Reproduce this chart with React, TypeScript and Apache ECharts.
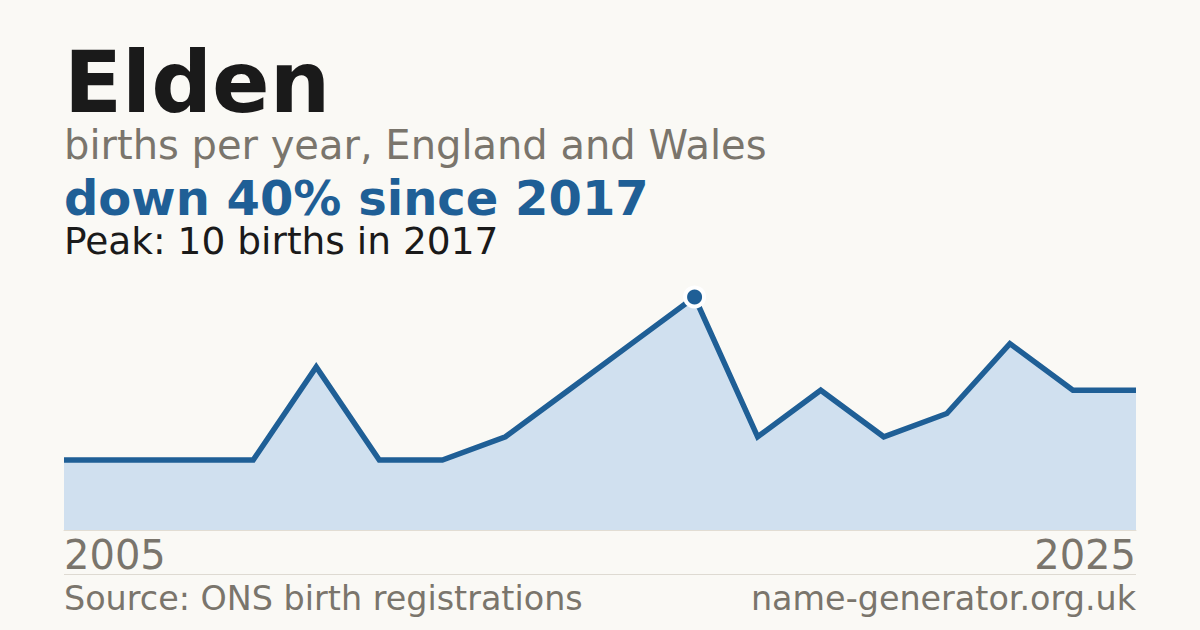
import React, { useEffect, useRef } from "react";
import * as echarts from "echarts";

const years: string[] = [
  "2005", "2006", "2007", "2008", "2009", "2010", "2011", "2013", "2014",
  "2015", "2017", "2018", "2019", "2020", "2022", "2023", "2024", "2025",
];
const births: number[] = [3, 3, 3, 3, 7, 3, 3, 4, 6, 8, 10, 4, 6, 4, 5, 8, 6, 6];

const titleText = "Elden";
const subtitleText = "births per year, England and Wales";
const headlineText = "down 40% since 2017";
const peakText = "Peak: 10 births in 2017";
const sourceText = "Source: ONS birth registrations";
const siteText = "name-generator.org.uk";

const FONT = "'DejaVu Sans', 'Noto Sans', sans-serif";
const BLUE = "#1f5f96";
const GRAY = "#7a756c";
const DARK = "#1a1a1a";
const BG = "#faf9f5";

export default function App() {
  const ref = useRef<HTMLDivElement>(null);
  useEffect(() => {
    if (!ref.current) return;
    const chart = echarts.init(ref.current, undefined, { renderer: "svg" });
    const maxV = Math.max(...births);
    const peakIdx = births.indexOf(maxV);
    const lastIdx = years.length - 1;
    const mid = (fs: number, base: number) => base - 0.346 * fs;
    const txt = (
      text: string,
      x: number,
      base: number,
      fs: number,
      fill: string,
      bold = false,
      align = "left"
    ) => ({
      type: "text",
      x,
      y: mid(fs, base),
      style: {
        text,
        font: `${bold ? "bold " : ""}${fs}px ${FONT}`,
        fill,
        align,
        verticalAlign: "middle",
        lineHeight: Math.round(fs * 0.8),
      },
    });
    chart.setOption({
      animation: false,
      backgroundColor: BG,
      grid: { left: 64, right: 64, top: 297, bottom: 100, containLabel: false },
      xAxis: {
        type: "category",
        data: years,
        boundaryGap: false,
        axisTick: { show: false },
        axisLine: { show: true, lineStyle: { color: "#e2ddd3", width: 1 } },
        splitLine: { show: false },
        axisLabel: {
          show: true,
          interval: (i: number) => i === 0 || i === lastIdx,
          alignMinLabel: "left",
          alignMaxLabel: "right",
          color: GRAY,
          fontFamily: FONT,
          fontSize: 40,
          margin: 5,
        },
      },
      yAxis: {
        type: "value",
        min: 0,
        max: maxV,
        show: false,
        splitLine: { show: false },
      },
      series: [
        {
          type: "line",
          data: births,
          showSymbol: false,
          symbol: "none",
          lineStyle: { color: BLUE, width: 5.5, join: "miter" },
          areaStyle: { color: "#d0e0ef", opacity: 1 },
          z: 2,
        },
        {
          type: "scatter",
          data: [[years[peakIdx], maxV]],
          symbol: "circle",
          symbolSize: 19,
          itemStyle: { color: BLUE, borderColor: "#ffffff", borderWidth: 4, opacity: 1 },
          z: 5,
        },
      ],
      graphic: [
        txt(titleText, 64, 112, 85, DARK, true),
        txt(subtitleText, 64, 159, 40, GRAY),
        txt(headlineText, 64, 215, 48, BLUE, true),
        txt(peakText, 64, 254, 37.5, DARK),
        {
          type: "line",
          shape: { x1: 64, y1: 574.5, x2: 1136, y2: 574.5 },
          style: { stroke: "#dedad2", lineWidth: 1 },
        },
        txt(sourceText, 64, 610, 33.4, GRAY),
        txt(siteText, 1136, 610, 33.4, GRAY, false, "right"),
      ],
    });
    return () => chart.dispose();
  }, []);
  return (
    <div
      ref={ref}
      style={{ position: "fixed", left: 0, top: 0, width: 1200, height: 630, background: BG }}
    />
  );
}
